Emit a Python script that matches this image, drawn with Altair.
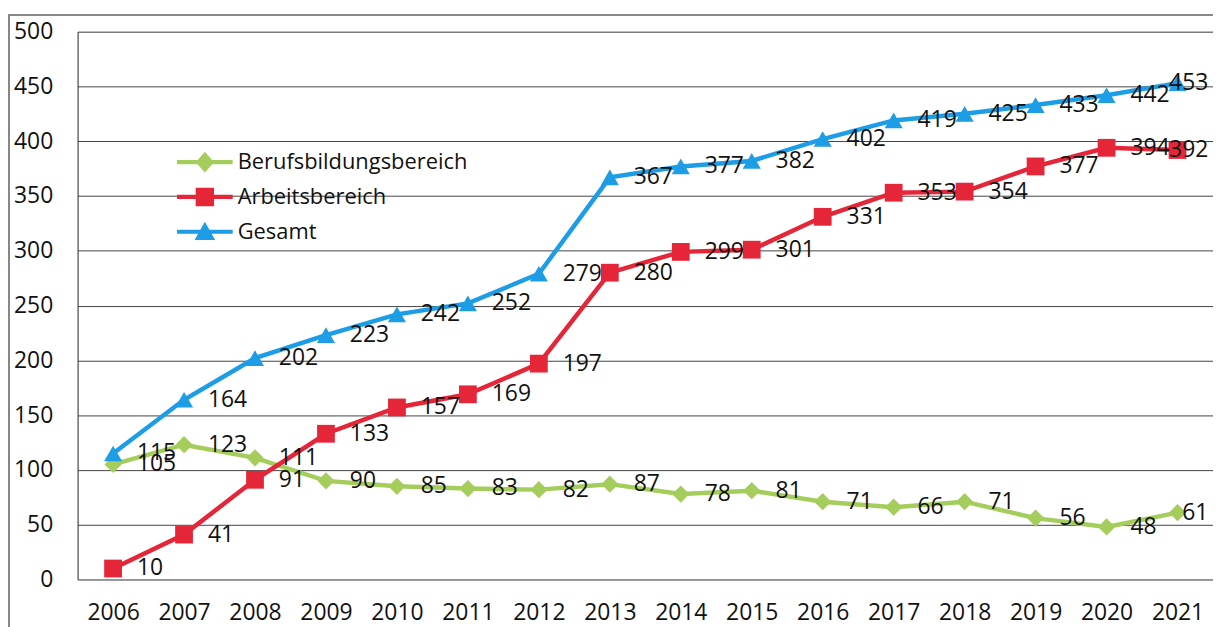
import altair as alt
import pandas as pd

years = [str(y) for y in range(2006, 2022)]
berufsbildung = [105, 123, 111, 90, 85, 83, 82, 87, 78, 81, 71, 66, 71, 56, 48, 61]
arbeit = [10, 41, 91, 133, 157, 169, 197, 280, 299, 301, 331, 353, 354, 377, 394, 392]
gesamt = [115, 164, 202, 223, 242, 252, 279, 367, 377, 382, 402, 419, 425, 433, 442, 453]
series_names = ["Berufsbildungsbereich", "Arbeitsbereich", "Gesamt"]
colors = ["#A5CD5C", "#E52639", "#1D9DE5"]
shapes = ["diamond", "square", "triangle-up"]
y_ticks = [0, 50, 100, 150, 200, 250, 300, 350, 400, 450, 500]

FONT = "Open Sans"
FS = 23
W, H = 1142, 551

rows = []
for name, vals in zip(series_names, [berufsbildung, arbeit, gesamt]):
    for yr, v in zip(years, vals):
        rows.append({"Jahr": yr, "Reihe": name, "Wert": v})
df = pd.DataFrame(rows)
last_year = years[-1]

x_enc = alt.X("Jahr:O", sort=years,
              axis=alt.Axis(title=None, labelAngle=0, ticks=False, domain=False,
                            labelPadding=22, labelFontSize=FS, labelFont=FONT,
                            labelColor="#111"))
y_enc = alt.Y("Wert:Q", scale=alt.Scale(domain=[0, 500], nice=False),
              axis=alt.Axis(title=None, values=y_ticks, ticks=False, grid=True,
                            gridColor="#444", gridWidth=1, domainColor="#333",
                            labelPadding=25, labelFontSize=FS, labelFont=FONT,
                            labelColor="#111"))

layers = []
# outer frame (decoration)
layers.append(alt.Chart(df).mark_rule(color="#888", strokeWidth=1).encode(
    x=alt.value(-69), x2=alt.value(W + 10), y=alt.value(-17)))
layers.append(alt.Chart(df).mark_rule(color="#888", strokeWidth=1).encode(
    x=alt.value(-69), y=alt.value(-17), y2=alt.value(H + 80)))

sizes = [300, 320, 330]
for name, col, shp, sz in zip(series_names, colors, shapes, sizes):
    sub = alt.Chart(df).transform_filter(alt.datum.Reihe == name)
    layers.append(sub.mark_line(color=col, strokeWidth=4.5).encode(x=x_enc, y=y_enc))
    layers.append(sub.mark_point(color=col, shape=shp, filled=True, size=sz, opacity=1)
                  .encode(x=x_enc, y=y_enc))

layers.append(alt.Chart(df).transform_filter(alt.datum.Jahr != last_year)
              .mark_text(align="left", baseline="middle", dx=24,
                         fontSize=FS, font=FONT, color="#111")
              .encode(x=x_enc, y=y_enc, text="Wert:Q"))
layers.append(alt.Chart(df).transform_filter(alt.datum.Jahr == last_year)
              .mark_text(align="right", baseline="middle", dx=31,
                         fontSize=FS, font=FONT, color="#111")
              .encode(x=x_enc, y=y_enc, text="Wert:Q"))

legend_paths = [
    "M-1,-0.075H1V0.075H-1Z M0,-0.37L0.33,0L0,0.37L-0.33,0Z",
    "M-1,-0.075H1V0.075H-1Z M-0.33,-0.33H0.33V0.33H-0.33Z",
    "M-1,-0.075H1V0.075H-1Z M0,-0.36L0.37,0.3H-0.37Z",
]
leg = alt.Legend(title=None, orient="none", legendX=100, legendY=114,
                 labelFontSize=FS - 1, labelFont=FONT, labelColor="#111", labelLimit=0,
                 symbolSize=3136, symbolStrokeWidth=0, symbolOpacity=1,
                 clipHeight=34.5, rowPadding=0, labelOffset=5, padding=0)
layers.append(alt.Chart(df).transform_filter("false").mark_point(filled=True, opacity=1).encode(
    x=x_enc, y=y_enc,
    color=alt.Color("Reihe:N", scale=alt.Scale(domain=series_names, range=colors), legend=leg),
    shape=alt.Shape("Reihe:N", scale=alt.Scale(domain=series_names, range=legend_paths), legend=leg),
))

chart = alt.layer(*layers).properties(
    width=W, height=H,
    autosize=alt.AutoSizeParams(type="none"),
    padding={"left": 70, "top": 22, "right": 0, "bottom": 46},
).configure_view(strokeWidth=0).configure(background="white")

chart.save("out.html", embed_options={"renderer": "svg", "actions": False})
